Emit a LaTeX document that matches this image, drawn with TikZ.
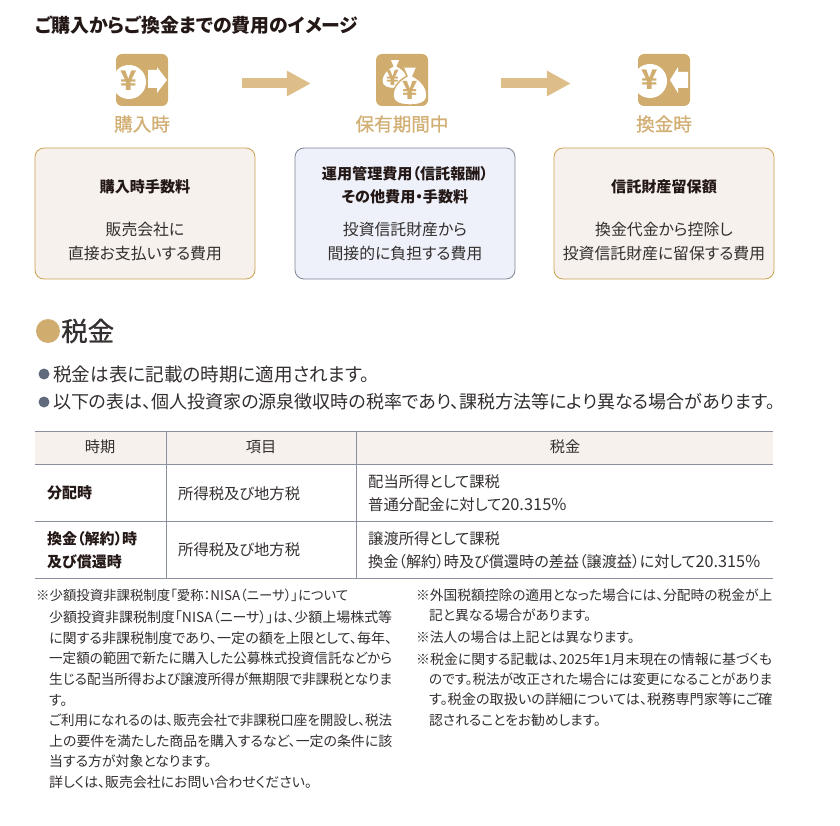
\documentclass[tikz,border=0pt]{standalone}
\usepackage{fontspec}
\usepackage{graphicx}
\usetikzlibrary{arrows.meta}
\setmainfont{Noto Sans CJK JP}[RawFeature=+palt]
\newfontfamily\mediumfont{Noto Sans CJK JP}[RawFeature=+palt, FakeBold=0.8]
\definecolor{gold}{HTML}{D0AD6E}
\definecolor{goldarrow}{HTML}{DDBE89}
\definecolor{goldlabel}{HTML}{D2AF74}
\definecolor{goldedge}{HTML}{CDA050}
\definecolor{creamfill}{HTML}{F6F1EC}
\definecolor{bluefill}{HTML}{EEF1FA}
\definecolor{slateedge}{HTML}{7F8596}
\definecolor{ruleline}{HTML}{8A90A0}
\definecolor{bulletgray}{HTML}{5F6A7D}
\definecolor{inktext}{HTML}{332F2E}
\definecolor{titletext}{HTML}{231815}
\newcommand{\fs}[2]{\fontsize{#1}{#2}\selectfont}
\newcommand{\fitleft}[1]{\resizebox{343pt}{\height}{#1}}
\newcommand{\fitlong}[1]{\resizebox{356pt}{\height}{#1}}
\newcommand{\pct}{{\fontsize{16.4}{23}\selectfont 20.315\%}}
\begin{document}
\begin{tikzpicture}[x=1pt, y=-1pt, node distance=44pt,
    icon/.style={rectangle, fill=gold, rounded corners=6pt, minimum size=52pt, inner sep=0pt},
    phase/.style={text=goldlabel, inner sep=0pt, font=\fs{18.6}{22}\mediumfont},
    block/.style={rectangle, draw, line width=.8pt, rounded corners=9pt, minimum width=220pt,
        minimum height=131pt, inner sep=0pt},
    creamblock/.style={block, draw=goldedge, fill=creamfill},
    blueblock/.style={block, draw=slateedge, fill=bluefill},
    boxtext/.style={text=inktext, inner sep=0pt, align=center, font=\fs{15.85}{24}},
    boxhead/.style={text=titletext, inner sep=0pt, align=center, font=\fs{15.1}{23}\bfseries},
    yen/.style={text=gold, inner sep=0pt, font=\fs{#1}{#1}\bfseries},
    line/.style={draw=goldarrow, line width=10pt, -{Triangle[length=24pt, width=24pt]}},
    body/.style={text=inktext, inner sep=0pt, anchor=west, font=\fs{18.6}{20}},
    cell/.style={text=inktext, inner sep=0pt, anchor=west, align=left, font=\fs{15.3}{23}},
    cellhead/.style={text=inktext, inner sep=0pt, font=\fs{15.2}{18}},
    cellbold/.style={text=titletext, inner sep=0pt, anchor=west, align=left, font=\fs{15}{23}\bfseries},
    note/.style={text=inktext, inner sep=0pt, anchor=north west, align=left, font=\fs{13.9}{20.6}},
    rule/.style={draw=ruleline, line width=1pt},
    bag/.pic={\path [fill=white, draw=gold, line width=1.4pt] (-3,-14)
        .. controls (-14,-8) and (-17,0) .. (-17,5) .. controls (-17,13) and (-9,15) .. (0,15)
        .. controls (9,15) and (17,13) .. (17,5) .. controls (17,0) and (14,-8) .. (3,-14)
        -- (7,-23) -- (-7,-23) -- cycle;}]

\useasboundingbox (0,0) rectangle (840,826);

\node [anchor=west, inner sep=0pt, text=titletext, font=\fs{18.9}{20}\bfseries] (title) at (35,25) {ご購入からご換金までの費用のイメージ};

% icons
\node [icon] (buy) at (142,80) {};
\node [icon, right of=buy, node distance=260pt] (hold) {};
\node [icon, right of=hold, node distance=262pt] (sell) {};

\path [line, shorten <=74pt, shorten >=65pt] ([yshift=-3.5pt]buy.east) -- ([yshift=-3.5pt]hold.west);
\path [line, shorten <=73pt, shorten >=67pt] ([yshift=-3.5pt]hold.east) -- ([yshift=-3.5pt]sell.west);

\begin{scope}[shift={(buy.center)}]
\fill [white] (-13,2) circle (17);
\node [yen=27] (yenbuy) at (-13,1) {¥};
\fill [white] (6,-10) -- (15,-10) -- (15,-13) -- (25,0) -- (15,13) -- (15,8) -- (6,8) -- cycle;
\end{scope}

\begin{scope}[shift={(hold.center)}]
\pic at (-7,-3) [scale=.78] {bag};
\node [yen=21] (yenback) at (-9,-2) {¥};
\pic at (8,10) {bag};
\node [yen=25] (yenfront) at (8,10) {¥};
\end{scope}

\begin{scope}[shift={(sell.center)}]
\fill [white] (-14,1) circle (17);
\node [yen=27] (yensell) at (-14,0) {¥};
\fill [white] (24,-8) -- (14,-8) -- (14,-13) -- (6,0) -- (14,13) -- (14,8) -- (24,8) -- cycle;
\end{scope}

\node [phase, below of=buy] (buylabel) {購入時};
\node [phase, below of=hold] (holdlabel) {保有期間中};
\node [phase, below of=sell] (selllabel) {換金時};

% blocks
\node [creamblock] (buybox) at (145,213.5) {};
\node [blueblock, right of=buybox, node distance=260pt] (holdbox) {};
\node [creamblock, right of=holdbox, node distance=259pt] (sellbox) {};

\node [boxhead] (buyhead) at (145,187) {購入時手数料};
\node [boxtext] (buytext) at (145,242) {販売会社に\\直接お支払いする費用};
\node [boxhead] (holdhead) at (405,185.5) {運用管理費用（信託報酬）\\その他費用・手数料};
\node [boxtext] (holdtext) at (405,242) {投資信託財産から\\間接的に負担する費用};
\node [boxhead] (sellhead) at (664,187) {信託財産留保額};
\node [boxtext] (selltext) at (664,242) {換金代金から控除し\\投資信託財産に留保する費用};

% tax
\node [circle, fill=gold, minimum size=24pt, inner sep=0pt] (taxdot) at (48,331) {};
\node [anchor=west, inner sep=0pt, text=inktext, font=\fs{26.5}{28}\mediumfont] (taxhead) at (61,331) {税金};

\node [circle, fill=bulletgray, minimum size=11pt, inner sep=0pt] (dotone) at (44,374) {};
\node [body] (lineone) at (53,374) {税金は表に記載の時期に適用されます。};
\node [circle, fill=bulletgray, minimum size=11pt, inner sep=0pt] (dottwo) at (44,402) {};
\node [body, font=\fs{18}{20}] (linetwo) at (53,402) {以下の表は、個人投資家の源泉徴収時の税率であり、課税方法等により異なる場合があります。};

% table
\fill [creamfill] (35,431) rectangle (773,464);
\path [rule] (35,431) -- (773,431);
\path [rule] (35,464) -- (773,464);
\path [rule] (35,521.5) -- (773,521.5);
\path [rule] (35,578) -- (773,578);
\path [rule] (166,431) -- (166,578);
\path [rule] (356.5,431) -- (356.5,578);

\node [cellhead] (headtime) at (100,447) {時期};
\node [cellhead] (headitem) at (261,447) {項目};
\node [cellhead] (headtax) at (565,447) {税金};

\node [cellbold] (rowone) at (47,493) {分配時};
\node [cell] (itemone) at (178,494) {所得税及び地方税};
\node [cell] (taxone) at (368,493) {配当所得として課税\\普通分配金に対して\pct};
\node [cellbold] (rowtwo) at (47,550) {換金（解約）時\\及び償還時};
\node [cell] (itemtwo) at (178,550) {所得税及び地方税};
\node [cell] (taxtwo) at (368,550) {譲渡所得として課税\\\resizebox{392pt}{\height}{換金（解約）時及び償還時の差益（譲渡益）に対して\pct}};

% notes
\node [note, font=\fs{13.4}{20.6}] (noteleadin) at (36,588.5) {※少額投資非課税制度「愛称：NISA（ニーサ）」について};
\node [note] (notenisa) at (49,610.5) {\fitleft{少額投資非課税制度「NISA（ニーサ）」は、少額上場株式等}\\\fitleft{に関する非課税制度であり、一定の額を上限として、毎年、}\\\fitleft{一定額の範囲で新たに購入した公募株式投資信託などから}\\\fitleft{生じる配当所得および譲渡所得が無期限で非課税となりま}\\す。\\\fitleft{ご利用になれるのは、販売会社で非課税口座を開設し、税法}\\\fitleft{上の要件を満たした商品を購入するなど、一定の条件に該}\\当する方が対象となります。\\詳しくは、販売会社にお問い合わせください。};
\node [note, font=\fs{13.75}{20.6}] (noteforeign) at (416,588.5) {\fitlong{※外国税額控除の適用となった場合には、分配時の税金が上}\\\hspace*{13pt}記と異なる場合があります。};
\node [note, font=\fs{13.75}{20.6}] (notecorp) at (416,630.5) {※法人の場合は上記とは異なります。};
\node [note, font=\fs{13.75}{20.3}] (notelaw) at (416,652.5) {\fitlong{※税金に関する記載は、2025年1月末現在の情報に基づくも}\\\hspace*{13pt}\fitleft{のです。税法が改正された場合には変更になることがありま}\\\hspace*{13pt}\fitleft{す。税金の取扱いの詳細については、税務専門家等にご確}\\\hspace*{13pt}認されることをお勧めします。};
\end{tikzpicture}
\end{document}
